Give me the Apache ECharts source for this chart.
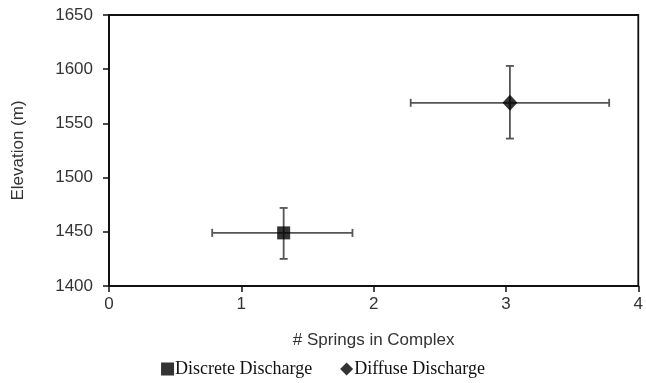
<!DOCTYPE html>
<html>
<head>
<meta charset="utf-8">
<script src="https://cdn.jsdelivr.net/npm/echarts@6/dist/echarts.min.js"></script>
<style>
  html, body { margin: 0; padding: 0; background: #fff; }
  #chart { width: 646px; height: 383px; }
</style>
</head>
<body>
<div id="chart"></div>
<script>
const seriesNames = ['Discrete Discharge', 'Diffuse Discharge']
const springs = [1.32, 3.03]
const springsLow = [0.78, 2.28]
const springsHigh = [1.84, 3.78]
const elevation = [1449, 1569]
const elevationLow = [1425, 1536]
const elevationHigh = [1472, 1603]
const markers = ['rect', 'diamond']
const markerSizes = [[13, 13], [15, 16]]

const chart = echarts.init(document.getElementById('chart'))

const capLen = 4
const barStyle = { stroke: '#555', lineWidth: 1.8 }

function errorBars (i) {
  return {
    type: 'custom',
    silent: true,
    z: 1,
    data: [[springs[i], elevation[i], springsLow[i], springsHigh[i], elevationLow[i], elevationHigh[i]]],
    renderItem: (params, api) => {
      const c = api.coord([api.value(0), api.value(1)])
      const l = api.coord([api.value(2), api.value(1)])
      const r = api.coord([api.value(3), api.value(1)])
      const b = api.coord([api.value(0), api.value(4)])
      const t = api.coord([api.value(0), api.value(5)])
      const line = (x1, y1, x2, y2) => ({ type: 'line', shape: { x1, y1, x2, y2 }, style: barStyle })
      return {
        type: 'group',
        children: [
          line(l[0], l[1], r[0], r[1]),
          line(l[0], l[1] - capLen, l[0], l[1] + capLen),
          line(r[0], r[1] - capLen, r[0], r[1] + capLen),
          line(c[0], t[1], c[0], b[1]),
          line(c[0] - capLen, t[1], c[0] + capLen, t[1]),
          line(c[0] - capLen, b[1], c[0] + capLen, b[1])
        ]
      }
    }
  }
}

const series = []
seriesNames.forEach((name, i) => {
  series.push(errorBars(i))
  series.push({
    name,
    type: 'scatter',
    z: 3,
    symbol: markers[i],
    symbolSize: markerSizes[i],
    itemStyle: { color: '#000' },
    data: [[springs[i], elevation[i]]]
  })
})

const axisFont = { fontFamily: 'Liberation Sans', fontSize: 17, color: '#333' }

chart.setOption({
  animation: false,
  grid: { left: 109, right: 4, top: 15, bottom: 97, show: true, borderColor: '#111', borderWidth: 1.8 },
  xAxis: {
    type: 'value',
    min: 0,
    max: 4,
    interval: 1,
    name: '# Springs in Complex',
    nameLocation: 'middle',
    nameGap: 46,
    nameTextStyle: axisFont,
    axisLine: { show: true, onZero: false, lineStyle: { color: '#111', width: 1.8 } },
    axisTick: { show: true, inside: false, length: 6, lineStyle: { color: '#111', width: 1.5 } },
    axisLabel: Object.assign({ margin: 10 }, axisFont),
    splitLine: { show: false }
  },
  yAxis: {
    type: 'value',
    min: 1400,
    max: 1650,
    interval: 50,
    name: 'Elevation (m)',
    nameLocation: 'middle',
    nameGap: 82,
    nameTextStyle: axisFont,
    axisLine: { show: true, onZero: false, lineStyle: { color: '#111', width: 1.8 } },
    axisTick: { show: true, inside: false, length: 6, lineStyle: { color: '#111', width: 1.5 } },
    axisLabel: Object.assign({ margin: 16, formatter: (v) => String(v) }, axisFont),
    splitLine: { show: false }
  },
  legend: {
    data: seriesNames.map((name, i) => ({ name, icon: markers[i] })),
    bottom: 0,
    left: 'center',
    itemWidth: 13,
    itemHeight: 13,
    itemGap: 28,
    textStyle: { fontFamily: 'Liberation Serif', fontSize: 18, color: '#111', padding: [0, 0, 0, -4] }
  },
  series
})
</script>
</body>
</html>
